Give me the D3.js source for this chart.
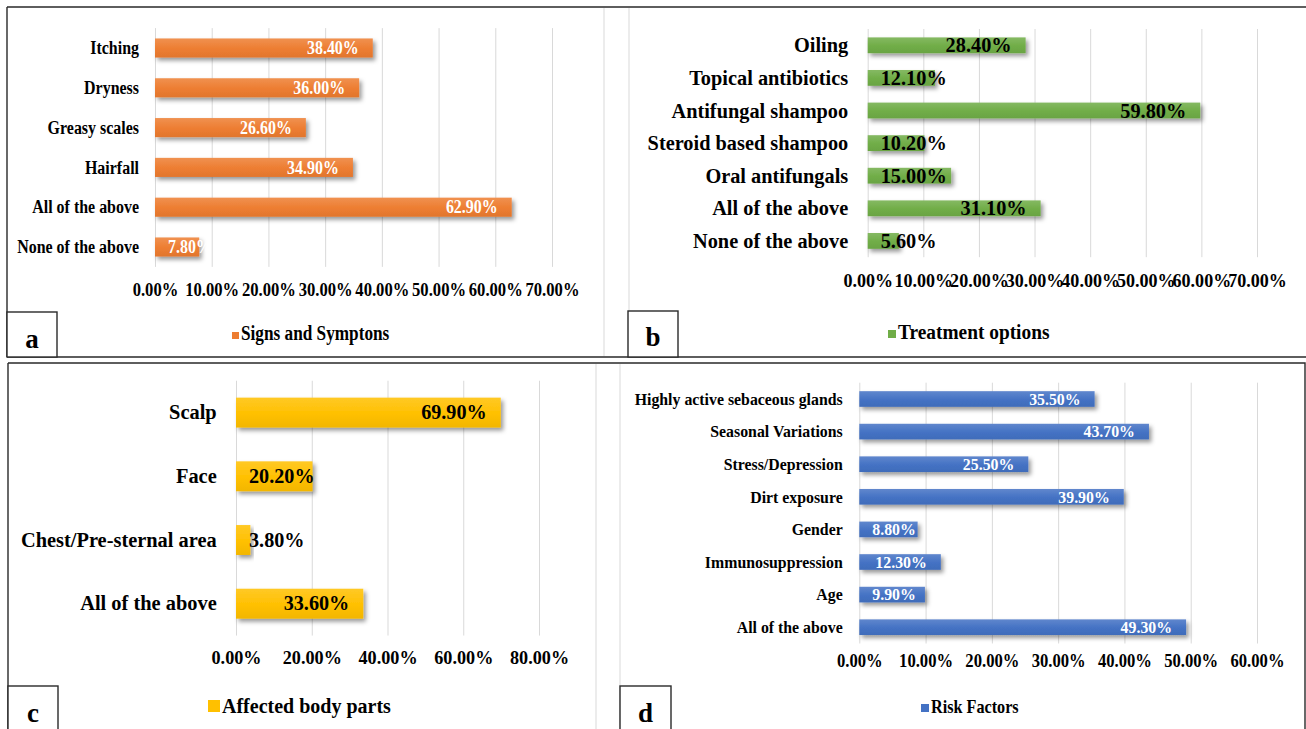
<!DOCTYPE html>
<html>
<head>
<meta charset="utf-8">
<script src="https://cdn.jsdelivr.net/npm/d3@7"></script>
<style>
  html, body { margin: 0; padding: 0; background: #fff; }
  svg { display: block; font-family: "Liberation Serif", "Times New Roman", serif; }
</style>
</head>
<body>
<svg id="chart" width="1306" height="729"></svg>
<script>
// ---------------- DATA ----------------
const aCategories = ["Itching", "Dryness", "Greasy scales", "Hairfall", "All of the above", "None of the above"];
const aValues = [38.4, 36.0, 26.6, 34.9, 62.9, 7.8];
const aTicks = [0, 10, 20, 30, 40, 50, 60, 70];
const aSeries = "Signs and Symptons";

const bCategories = ["Oiling", "Topical antibiotics", "Antifungal shampoo", "Steroid based shampoo", "Oral antifungals", "All of the above", "None of the above"];
const bValues = [28.4, 12.1, 59.8, 10.2, 15.0, 31.1, 5.6];
const bTicks = [0, 10, 20, 30, 40, 50, 60, 70];
const bSeries = "Treatment options";

const cCategories = ["Scalp", "Face", "Chest/Pre-sternal area", "All of the above"];
const cValues = [69.9, 20.2, 3.8, 33.6];
const cTicks = [0, 20, 40, 60, 80];
const cSeries = "Affected body parts";

const dCategories = ["Highly active sebaceous glands", "Seasonal Variations", "Stress/Depression", "Dirt exposure", "Gender", "Immunosuppression", "Age", "All of the above"];
const dValues = [35.5, 43.7, 25.5, 39.9, 8.8, 12.3, 9.9, 49.3];
const dTicks = [0, 10, 20, 30, 40, 50, 60];
const dSeries = "Risk Factors";

const panelLetters = ["a", "b", "c", "d"];

// ---------------- LAYOUT ----------------
const svg = d3.select("#chart");
const defs = svg.append("defs");
const shadow = defs.append("filter").attr("id", "shadow")
  .attr("x", "-10%").attr("y", "-30%").attr("width", "130%").attr("height", "190%");
shadow.append("feDropShadow").attr("dx", 2.5).attr("dy", 3).attr("stdDeviation", 2)
  .attr("flood-color", "#000").attr("flood-opacity", 0.4);

function gradient(id, color) {
  const c = d3.color(color);
  const g = defs.append("linearGradient").attr("id", id)
    .attr("x1", 0).attr("y1", 0).attr("x2", 0).attr("y2", 1);
  g.append("stop").attr("offset", "0%").attr("stop-color", d3.interpolateRgb(color, "#fff")(0.15));
  g.append("stop").attr("offset", "55%").attr("stop-color", color);
  g.append("stop").attr("offset", "100%").attr("stop-color", c.darker(0.15).formatHex());
  return `url(#${id})`;
}

function txt(g, x, y, s, F, k, anchor, color) {
  return g.append("text")
    .attr("transform", `translate(${x},${y}) scale(${k},1)`)
    .attr("text-anchor", anchor)
    .attr("font-size", F)
    .attr("font-weight", "bold")
    .attr("fill", color)
    .text(s);
}

const fmt = v => d3.format(".2f")(v) + "%";

function drawPanel(cfg) {
  const g = svg.append("g");
  const n = cfg.categories.length;
  const x = d3.scaleLinear().domain([0, cfg.ticks[cfg.ticks.length - 1]]).range([cfg.x0, cfg.x1]);
  const y = d3.scaleBand().domain(cfg.categories)
    .range([cfg.c0 - cfg.step / 2, cfg.c0 + (n - 0.5) * cfg.step])
    .paddingInner(cfg.pad).paddingOuter(cfg.pad / 2);
  const [yTop, yBot] = y.range();

  // gridlines
  const grid = g.append("g").attr("transform", `translate(0,${yBot})`)
    .call(d3.axisBottom(x).tickValues(cfg.ticks).tickSize(-(yBot - yTop)).tickFormat(""));
  grid.select(".domain").remove();
  grid.selectAll("line").attr("stroke", "#d9d9d9").attr("stroke-width", 1);

  // tick labels
  const ax = g.append("g").attr("transform", `translate(0,${cfg.tickY})`)
    .call(d3.axisBottom(x).tickValues(cfg.ticks).tickSize(0).tickFormat(fmt));
  ax.select(".domain").remove();
  ax.selectAll("text")
    .attr("y", 0).attr("dy", null)
    .attr("transform", `scale(${cfg.k},1)`)
    .attr("font-family", null)
    .attr("font-size", cfg.tickF).attr("font-weight", "bold").attr("fill", "#000");
  ax.attr("font-family", null).attr("font-size", null);

  // bars
  const fill = gradient("grad" + cfg.letter, cfg.color);
  g.append("g").selectAll("rect").data(cfg.values).join("rect")
    .attr("x", x(0))
    .attr("y", (d, i) => y(cfg.categories[i]))
    .attr("width", d => x(d) - x(0))
    .attr("height", y.bandwidth())
    .attr("fill", fill)
    .attr("filter", "url(#shadow)");

  // category labels
  cfg.categories.forEach((c, i) => {
    txt(g, x(0) - cfg.catGap, y(c) + y.bandwidth() / 2 + 0.33 * cfg.catF, c, cfg.catF, cfg.k, "end", "#000");
  });

  // value labels
  cfg.values.forEach((v, i) => {
    const cy = y(cfg.categories[i]) + y.bandwidth() / 2 + 0.33 * cfg.labF;
    const t = txt(g, 0, cy, fmt(v), cfg.labF, cfg.k, "end", cfg.labColor);
    const w = t.node().getComputedTextLength() * cfg.k;
    const right = Math.max(x(v) - 14, x(0) + 13 + w);
    t.attr("transform", `translate(${right},${cy}) scale(${cfg.k},1)`);
  });

  // legend
  g.append("rect").attr("x", cfg.legX).attr("y", cfg.legY - cfg.legSq + 1)
    .attr("width", cfg.legSq).attr("height", cfg.legSq).attr("fill", cfg.color);
  txt(g, cfg.legX + cfg.legSq + 2, cfg.legY + 2, cfg.series, cfg.legF, cfg.k, "start", "#000");
}

// frames
const frame = svg.append("g").attr("fill", "none");
frame.append("path").attr("d", "M7,7 H1306 M7,7 V357 M7,357 H1306").attr("stroke", "#2a2a2a").attr("stroke-width", 1.4);
frame.append("path").attr("d", "M8,363 H1305 V729 M8,363 V729").attr("stroke", "#2a2a2a").attr("stroke-width", 1.4);
frame.append("path").attr("d", "M604,8 V356 M629,8 V356 M596,364 V729 M620,364 V729")
  .attr("stroke", "#d9d9d9").attr("stroke-width", 1);

const cfgs = [
  { letter: "a", categories: aCategories, values: aValues, ticks: aTicks, series: aSeries, color: "#ED7D31",
    x0: 155, x1: 552, c0: 48, step: 39.8, pad: 0.52, k: 0.84, catF: 19, catGap: 16, labF: 19, labColor: "#fff",
    tickF: 19.8, tickY: 296, legX: 232, legY: 338, legSq: 7, legF: 20.5 },
  { letter: "b", categories: bCategories, values: bValues, ticks: bTicks, series: bSeries, color: "#70AD47",
    x0: 867.7, x1: 1257, c0: 45.3, step: 32.6, pad: 0.515, k: 0.95, catF: 21.4, catGap: 19.5, labF: 21.4, labColor: "#000",
    tickF: 19, tickY: 287, legX: 888, legY: 337, legSq: 8, legF: 20.4 },
  { letter: "c", categories: cCategories, values: cValues, ticks: cTicks, series: cSeries, color: "#FFC000",
    x0: 236, x1: 539, c0: 412.6, step: 63.7, pad: 0.53, k: 1, catF: 20.4, catGap: 19.3, labF: 20.2, labColor: "#000",
    tickF: 18.2, tickY: 664, legX: 208, legY: 711, legSq: 12, legF: 20 },
  { letter: "d", categories: dCategories, values: dValues, ticks: dTicks, series: dSeries, color: "#4472C4",
    x0: 859.3, x1: 1257, c0: 399, step: 32.6, pad: 0.52, k: 0.9, catF: 17.6, catGap: 16.6, labF: 17.6, labColor: "#fff",
    tickF: 18.5, tickY: 667, legX: 921, legY: 711, legSq: 8, legF: 18 }
];
cfgs.forEach(drawPanel);

// panel letter boxes
const boxes = [
  { x: 7, y: 312, w: 50, h: 45, ty: 348 },
  { x: 628, y: 311, w: 50, h: 46, ty: 346 },
  { x: 8, y: 686, w: 50, h: 50, ty: 722 },
  { x: 620, y: 686, w: 51, h: 50, ty: 722 }
];
const lb = svg.append("g");
boxes.forEach((b, i) => {
  lb.append("rect").attr("x", b.x).attr("y", b.y).attr("width", b.w).attr("height", b.h)
    .attr("fill", "#fff").attr("stroke", "#2a2a2a").attr("stroke-width", 1.4);
  lb.append("text").attr("x", b.x + b.w / 2).attr("y", b.ty).attr("text-anchor", "middle")
    .attr("font-size", 27).attr("font-weight", "bold").attr("fill", "#000").text(panelLetters[i]);
});
</script>
</body>
</html>
